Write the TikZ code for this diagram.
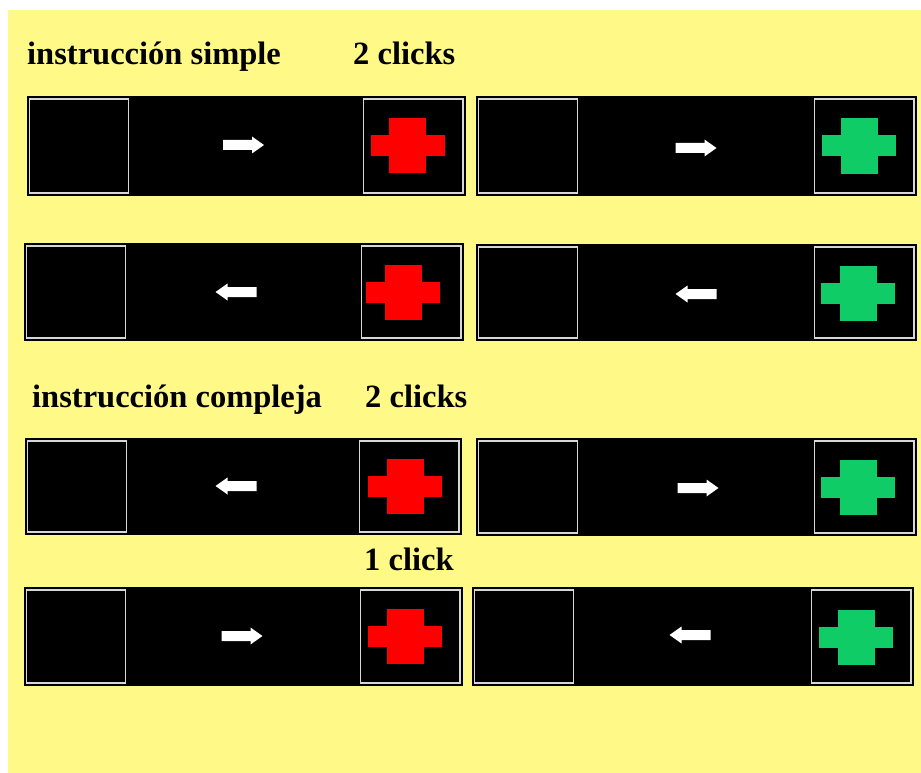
\documentclass[tikz,border=0pt]{standalone}
\usepackage{fontspec}
\setmainfont{Liberation Serif}
\definecolor{bgyellow}{RGB}{255,250,135}
\definecolor{crossgreen}{RGB}{16,204,102}
\definecolor{crossred}{RGB}{255,0,0}
\definecolor{framegray}{RGB}{215,215,215}
\tikzset{
  slotbox/.style={draw=framegray, line width=1.3pt, fill=black},
  cuearrow/.style={fill=white},
  titletext/.style={font=\fontsize{32.5}{36}\selectfont\bfseries, anchor=base west, inner sep=0pt, text=black}
}
% #1 x0, #2 y0, #3 x1, #4 y1
\newcommand\trialbar[4]{%
  \fill[black] (#1,#2) rectangle (#3,#4);
  \draw[slotbox] ({#1+2.5},{#2+3}) rectangle ({#1+101.5},{#4-3});
  \draw[slotbox] ({#3-102.5},{#2+3}) rectangle ({#3-3},{#4-3});
}
% #1 cx, #2 cy, #3 direction (1 right, -1 left)
\newcommand\trialarrow[3]{%
  \fill[cuearrow, shift={(#1,#2)}, xscale=#3]
    (-20.5,-5) -- (8.5,-5) -- (8.5,-8.5) -- (20.5,0) -- (8.5,8.5) -- (8.5,5) -- (-20.5,5) -- cycle;
}
% #1 cx, #2 cy, #3 colour
\newcommand\targetcross[3]{%
  \fill[#3] ({#1-37},{#2-10.5}) rectangle ({#1+37},{#2+10.5});
  \fill[#3] ({#1-18.5},{#2-27.5}) rectangle ({#1+18.5},{#2+27.5});
}
\begin{document}
\begin{tikzpicture}[x=1pt,y=-1pt]
\useasboundingbox (0,0) rectangle (921,773);
\fill[white] (0,0) rectangle (921,773);
\fill[bgyellow] (8,10) rectangle (921,773);

% titles
\node[titletext] (t1) at (27,65) {instrucción simple};
\node[titletext] (c1) at (353,65) {2 clicks};
\node[titletext] (t2) at (32,407) {instrucción compleja};
\node[titletext] (c2) at (365,407) {2 clicks};
\node[titletext] (c3) at (364,570) {1 click};

% row 1
\trialbar{27}{96}{466}{196}
\trialarrow{243.5}{145}{1}
\targetcross{407.5}{145.5}{crossred}
\trialbar{476}{96}{917}{196}
\trialarrow{696}{148}{1}
\targetcross{859}{146}{crossgreen}

% row 2
\trialbar{24}{243}{464}{341}
\trialarrow{236}{292}{-1}
\targetcross{403}{292}{crossred}
\trialbar{476}{244}{917}{341}
\trialarrow{696}{294}{-1}
\targetcross{858}{293}{crossgreen}

% row 3
\trialbar{25}{438}{462}{535}
\trialarrow{236}{486}{-1}
\targetcross{405}{486}{crossred}
\trialbar{476}{438}{917}{536}
\trialarrow{698}{488}{1}
\targetcross{858}{487}{crossgreen}

% row 4
\trialbar{24}{587}{463}{686}
\trialarrow{242}{636}{1}
\targetcross{405}{636}{crossred}
\trialbar{472}{587}{914}{686}
\trialarrow{690}{635}{-1}
\targetcross{856}{637}{crossgreen}
\end{tikzpicture}
\end{document}
